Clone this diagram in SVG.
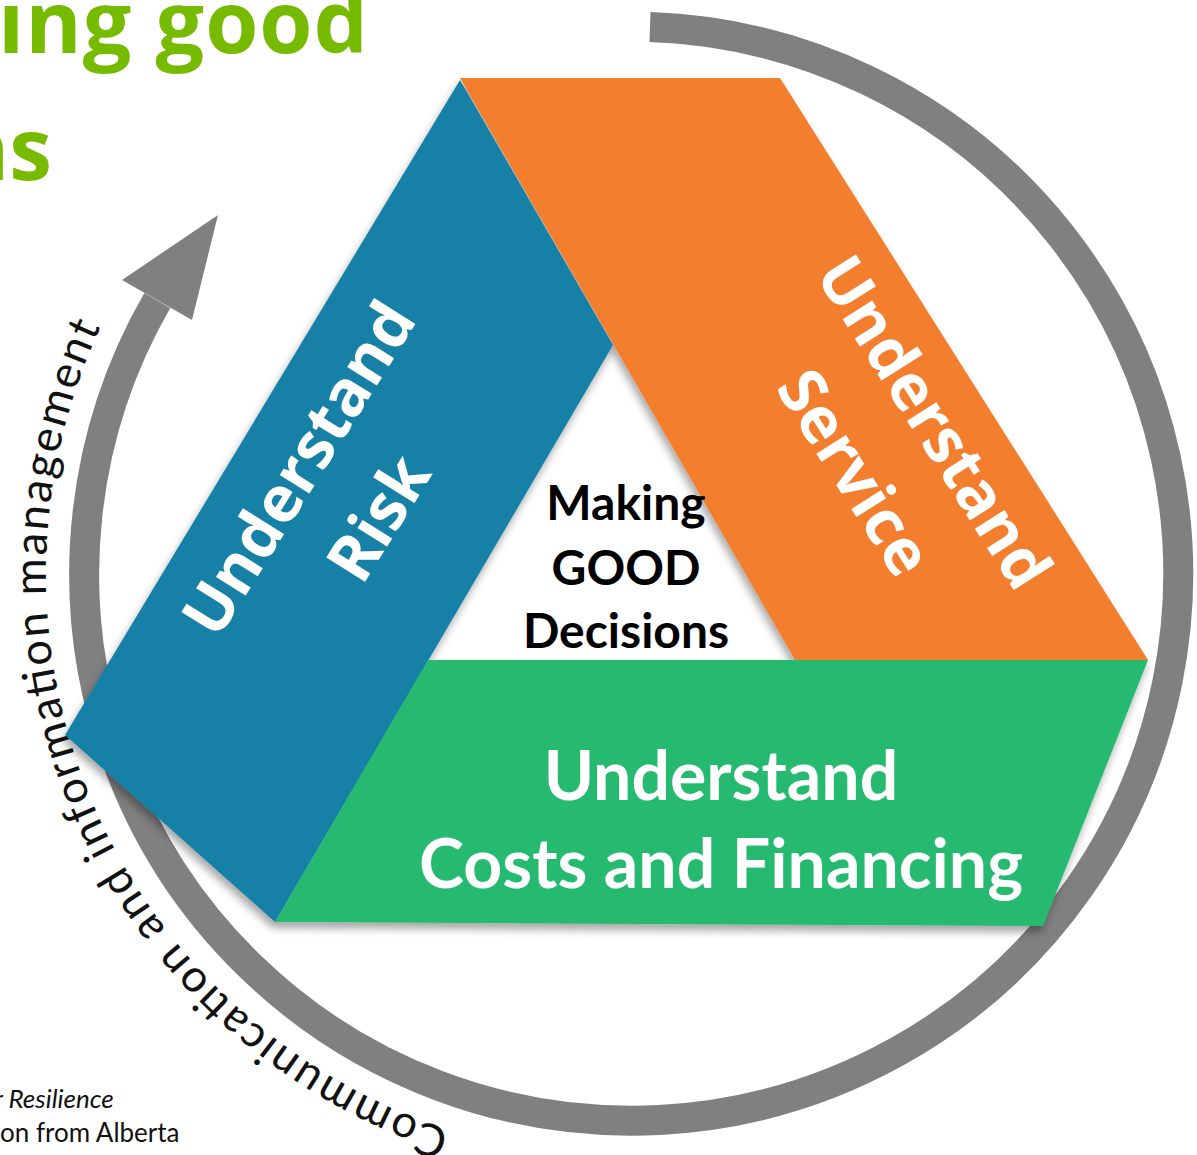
<svg xmlns="http://www.w3.org/2000/svg" width="1197" height="1155" viewBox="0 0 1197 1155">
  <defs>
    <filter id="shadow" x="-10%" y="-10%" width="120%" height="120%">
      <feDropShadow dx="-2" dy="6" stdDeviation="4" flood-color="#000" flood-opacity="0.35"/>
    </filter>
    <path id="ringText" d="M 450.2 1130.4 A 585 585 0 0 1 109.8 308.4"/>
    <style>
      .title { font-family: "Open Sans", "Liberation Sans", sans-serif; font-weight: 700; fill: #77BB00; }
      .band { font-family: "Open Sans", "Liberation Sans", sans-serif; font-weight: 700; fill: #fff; font-size: 64px; text-anchor: middle; }
      .green { font-family: Lato, "Liberation Sans", sans-serif; font-weight: 700; fill: #fff; font-size: 68px; text-anchor: middle; }
      .center { font-family: Lato, "Liberation Sans", sans-serif; font-weight: 700; fill: #000; font-size: 48px; text-anchor: middle; }
      .note { font-family: Lato, "Liberation Sans", sans-serif; font-size: 26px; fill: #111; }
      .ring { fill: none; stroke: #808080; stroke-width: 30; }
      .ringlabel { font-family: Lato, "Liberation Sans", sans-serif; font-size: 45px; fill: #111; }
    </style>
  </defs>
  <rect width="1197" height="1155" fill="#fff"/>

  <g id="title">
    <text class="title" x="-2" y="53" font-size="86" textLength="370">ing good</text>
    <text class="title" x="52" y="180" font-size="86" text-anchor="end">ns</text>
  </g>

  <g id="source-note">
    <text class="note" x="-6" y="1108" font-style="italic">r Resilience</text>
    <text class="note" x="0" y="1142">on from Alberta</text>
  </g>

  <g id="connectors">
    <path class="ring" d="M 650 27 A 547 547 0 1 1 157.3 300.5"/>
    <polygon points="218,215 122,280 192,320" fill="#808080"/>
    <text class="ringlabel"><textPath href="#ringText" textLength="990">Communication and information management</textPath></text>
  </g>

  <g filter="url(#shadow)">
    <g id="node-service">
      <polygon points="460,78 780,78 1148,660 795,660" fill="#F37E2F"/>
    </g>
    <g id="node-risk">
      <polygon points="460,80 613,345 275,922 65,735" fill="#1480A6"/>
    </g>
    <g id="node-costs">
      <polygon points="428,660 1148,660 1043,926 275,922" fill="#25BA70"/>
    </g>
  </g>

  <g id="label-risk" transform="translate(338,493) rotate(-58)">
    <text class="band" x="0" y="-24">Understand</text>
    <text class="band" x="0" y="70">Risk</text>
  </g>
  <g id="label-service" transform="translate(895,447) rotate(57.7)">
    <text class="band" x="0" y="-24">Understand</text>
    <text class="band" x="0" y="70">Service</text>
  </g>
  <g id="label-costs">
    <text class="green" x="721" y="800">Understand</text>
    <text class="green" x="721" y="888">Costs and Financing</text>
  </g>
  <g id="node-center">
    <text class="center" x="626" y="520">Making</text>
    <text class="center" x="626" y="585">GOOD</text>
    <text class="center" x="626" y="648">Decisions</text>
  </g>
</svg>
